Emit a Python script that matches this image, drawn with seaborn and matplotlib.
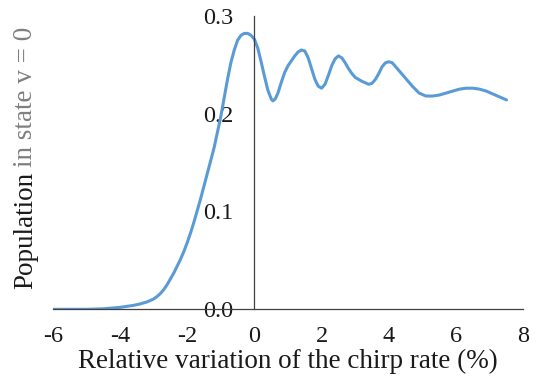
import matplotlib
matplotlib.use("Agg")
import matplotlib.pyplot as plt
import seaborn as sns
import pandas as pd

chirp_variation = [-6.0, -5.0, -4.5, -4.0, -3.8, -3.6, -3.4, -3.2, -3.0, -2.9, -2.8, -2.7, -2.6,
                   -2.5, -2.4, -2.3, -2.2, -2.1, -2.0, -1.9, -1.8, -1.7, -1.6, -1.5, -1.4, -1.3,
                   -1.2, -1.1, -1.0, -0.9, -0.8, -0.7, -0.6, -0.5, -0.4, -0.3, -0.2, -0.1, 0.0,
                   0.1, 0.2, 0.3, 0.4, 0.5, 0.55, 0.62, 0.7, 0.8, 0.9, 1.0, 1.1, 1.2, 1.3, 1.4,
                   1.5, 1.6, 1.7, 1.8, 1.9, 2.0, 2.1, 2.2, 2.3, 2.4, 2.5, 2.6, 2.7, 2.8, 2.9,
                   3.0, 3.2, 3.4, 3.5, 3.6, 3.7, 3.8, 3.9, 4.0, 4.1, 4.2, 4.35, 4.5, 4.7, 4.9,
                   5.1, 5.3, 5.5, 5.7, 5.9, 6.1, 6.3, 6.5, 6.7, 6.9, 7.1, 7.3, 7.5]
population_v0 = [0.000, 0.000, 0.0005, 0.002, 0.003, 0.004, 0.0055, 0.0075, 0.0105, 0.013, 0.016, 0.020, 0.025,
                 0.031, 0.037, 0.044, 0.051, 0.059, 0.068, 0.078, 0.089, 0.101, 0.113, 0.126, 0.139, 0.152,
                 0.165, 0.181, 0.197, 0.216, 0.235, 0.252, 0.265, 0.275, 0.280, 0.282, 0.282, 0.280, 0.276,
                 0.267, 0.253, 0.238, 0.224, 0.215, 0.213, 0.215, 0.221, 0.232, 0.242, 0.249, 0.254, 0.259, 0.263, 0.265,
                 0.264, 0.257, 0.246, 0.235, 0.228, 0.226, 0.230, 0.239, 0.249, 0.256, 0.259, 0.257, 0.252, 0.246, 0.241,
                 0.237, 0.233, 0.230, 0.231, 0.235, 0.241, 0.248, 0.252, 0.253, 0.252, 0.248, 0.242, 0.236, 0.228, 0.221,
                 0.218, 0.218, 0.219, 0.221, 0.223, 0.225, 0.226, 0.226, 0.225, 0.223, 0.220, 0.217, 0.214]
x_ticks = [-6, -4, -2, 0, 2, 4, 6, 8]
y_ticks = [0.0, 0.1, 0.2, 0.3]
y_tick_labels = ["0.0", "0.1", "0.2", "0.3"]

df = pd.DataFrame({"x": chirp_variation, "y": population_v0})

sns.set_theme(style="white")
plt.rcParams["font.family"] = ["Liberation Serif", "DejaVu Serif"]

fig = plt.figure(figsize=(5.38, 3.85), dpi=100)
ax = fig.add_axes([0.098, 0.1966, 0.8747, 0.7624])

sns.lineplot(data=df, x="x", y="y", ax=ax, color="#5B9BD5", linewidth=2.2)

ax.set_xlim(-6, 8)
ax.set_ylim(0, 0.3)
ax.set_xticks(x_ticks)
ax.set_xticklabels([str(t) for t in x_ticks])
ax.set_yticks(y_ticks)
ax.set_yticklabels(y_tick_labels)

ax.spines["left"].set_position(("data", 0))
ax.spines["bottom"].set_position(("data", 0))
ax.spines["right"].set_visible(False)
ax.spines["top"].set_visible(False)
for s in ("left", "bottom"):
    ax.spines[s].set_color("#404040")
    ax.spines[s].set_linewidth(0.9)

ax.tick_params(axis="both", which="major", direction="out", length=5, width=0.9,
               color="#404040", labelsize=17.5, labelcolor="#1a1a1a")
ax.tick_params(axis="x", pad=7)
ax.tick_params(axis="y", pad=10)
ax.set_xlabel("Relative variation of the chirp rate (%)", fontsize=19.5, color="#1a1a1a", labelpad=1)
ax.set_ylabel("")

# y label: "Population" in black, rest in gray
ylab_x, ylab_y = 0.047, (385 - 289) / 385
t1 = fig.text(ylab_x, ylab_y, "Population", rotation=90, rotation_mode="anchor",
              ha="left", va="center", fontsize=19.5, color="#1a1a1a")
fig.canvas.draw()
bb = t1.get_window_extent(renderer=fig.canvas.get_renderer())
space_px = 5.0
y2 = (bb.y1 + space_px) / fig.bbox.height
fig.text(ylab_x, y2, "in state v = 0", rotation=90, rotation_mode="anchor",
         ha="left", va="center", fontsize=19.5, color="#7f7f7f")

fig.savefig("out.png", dpi=100, facecolor="white")
